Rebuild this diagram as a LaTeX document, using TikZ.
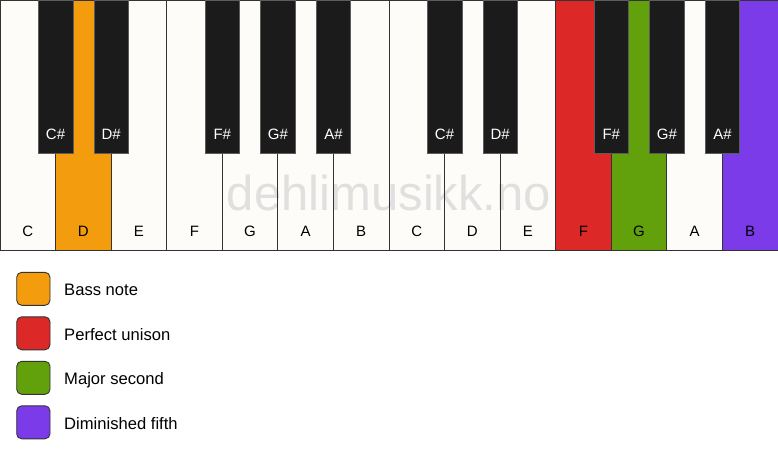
\documentclass[tikz,border=0pt]{standalone}
\usepackage{fontspec}
\setmainfont{Liberation Sans}
\definecolor{keywhite}{HTML}{FDFCF8}
\definecolor{keyblack}{HTML}{1B1B1B}
\definecolor{keyline}{HTML}{333333}
\definecolor{bassorange}{HTML}{F39C0E}
\definecolor{unisonred}{HTML}{DD2828}
\definecolor{secondgreen}{HTML}{62A10C}
\definecolor{fifthpurple}{HTML}{7B3BE8}
\definecolor{markgray}{HTML}{E0E0E0}

\begin{document}
\begin{tikzpicture}[x=1pt, y=-1pt,
    whitekey/.style={draw=keyline, line width=0.9pt},
    blackkey/.style={fill=keyblack, draw=keyline!80, line width=0.6pt},
    keylabel/.style={font=\fontsize{15}{18}\selectfont, anchor=base},
    legendbox/.style={draw=keyline, line width=0.9pt, rounded corners=5pt},
    legendtext/.style={font=\fontsize{16.6}{19}\selectfont, anchor=base west, inner sep=0pt}]
    \useasboundingbox (0,0) rectangle (778,461);
    \def\keyw{55.571}
    % White keys (fill)
    \foreach \c [count=\i from 0] in {keywhite, bassorange, keywhite, keywhite, keywhite, keywhite, keywhite,
                                      keywhite, keywhite, keywhite, unisonred, secondgreen, keywhite, fifthpurple}
        \fill[\c] (\i*\keyw, 0) rectangle ++(\keyw, 250);
    % Watermark
    \node[font=\fontsize{49}{56}\selectfont, text=markgray, anchor=base] (mark) at (389, 210.7) {dehlimusikk.no};
    % White keys (outline and names)
    \foreach \n [count=\i from 0] in {C,D,E,F,G,A,B,C,D,E,F,G,A,B} {
        \draw[whitekey] (\i*\keyw, 0) rectangle ++(\keyw, 250);
        \node[keylabel] (w\i) at (\i*\keyw + 0.5*\keyw, 236) {\n};
    }
    % Black keys
    \foreach \b/\n in {1/C, 2/D, 4/F, 5/G, 6/A, 8/C, 9/D, 11/F, 12/G, 13/A} {
        \filldraw[blackkey] (\b*\keyw - 17.25, 0) rectangle ++(34.5, 153);
        \node[keylabel, text=white] (b\b) at (\b*\keyw, 139) {\n\#};
    }
    % Legend
    \foreach \c/\t [count=\i from 0] in {bassorange/Bass note, unisonred/Perfect unison,
                                         secondgreen/Major second, fifthpurple/Diminished fifth} {
        \filldraw[legendbox, fill=\c] (16.7, 272.3 + \i*44.5) rectangle ++(33.3, 33);
        \node[legendtext] (l\i) at (64, 295.7 + \i*44.5) {\t};
    }
\end{tikzpicture}
\end{document}
